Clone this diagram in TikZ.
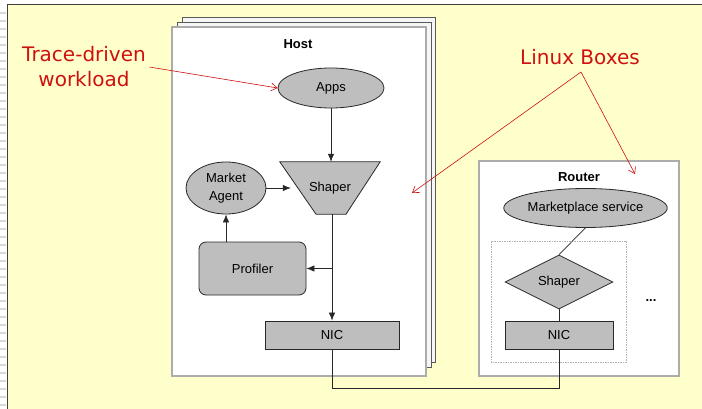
\documentclass[tikz,border=0pt]{standalone}
\usepackage{fontspec}
\setmainfont{Liberation Sans}
\newfontfamily\annfont{DejaVu Sans}
\usetikzlibrary{shapes.geometric,arrows.meta,calc}
\pgfdeclarelayer{back}
\pgfsetlayers{back,main}
\definecolor{bgyellow}{RGB}{255,255,204}
\definecolor{boxgray}{RGB}{190,190,190}
\definecolor{annred}{RGB}{208,16,16}
\definecolor{edge}{RGB}{40,40,40}
\begin{document}
\begin{tikzpicture}[x=1pt,y=-1pt,
  lbl/.style={font=\fontsize{13}{18}\selectfont},
  elem/.style={draw=edge, fill=boxgray, line width=0.8pt, lbl, inner sep=0pt},
  oval/.style={elem, ellipse},
  arr/.style={-{Latex[length=8pt,width=6.5pt]}, line width=0.7pt, edge},
  conn/.style={line width=0.7pt, edge},
  sheet/.style={fill=gray!7, draw=gray!70!black, line width=0.8pt},
  redarr/.style={annred, line width=0.6pt, -{Straight Barb[length=6pt,width=8pt]}},
  ann/.style={annred, font=\annfont\fontsize{20}{25}\selectfont, align=center}
]
\useasboundingbox (0,0) rectangle (702,409);
\begin{pgfonlayer}{back}
  % page background
  \fill[white] (0,0) rectangle (702,409);
  \foreach \yy in {13,21,...,405} \draw[gray!30, line width=1.2pt] (0,\yy) -- (6,\yy);
  \fill[bgyellow] (7,5) rectangle (702,409);
  \draw[black!75, line width=1pt] (7,409) -- (7,5) -- (702,5);
  % host stack
  \draw[sheet] (182,17) rectangle (435,362);
  \draw[sheet] (177,22) rectangle (431,367);
  \draw[fill=white, draw=gray!65, line width=1.6pt] (172,27) rectangle (426,376);
  % router box
  \draw[fill=white, draw=gray!65, line width=1.6pt] (479,161) rectangle (679,376);
  \draw[gray!60, line width=0.8pt, dash pattern=on 1.5pt off 1pt] (491,241) rectangle (626,362);
\end{pgfonlayer}

% host
\node[lbl, font=\fontsize{13}{18}\selectfont\bfseries] (hostlbl) at (298,44) {Host};
\node[oval, minimum width=106pt, minimum height=40pt] (apps) at (331,88) {Apps};
\node[lbl, minimum width=100pt, minimum height=52pt, inner sep=0pt] (shaper) at (330,188) {Shaper};
\begin{pgfonlayer}{back}
  \draw[fill=boxgray, draw=edge, line width=0.8pt]
    (shaper.north west) -- (shaper.north east)
    -- ($(shaper.south)+(16,0)$) -- ($(shaper.south)+(-14,0)$) -- cycle;
\end{pgfonlayer}
\node[oval, minimum width=80pt, minimum height=52pt, align=center] (agent) at (226,188) {Market\\Agent};
\node[elem, rounded corners=7pt, minimum width=107pt, minimum height=53pt] (profiler) at (252.5,268.5) {Profiler};
\node[elem, minimum width=134pt, minimum height=28pt] (hnic) at (332,335) {NIC};

\draw[arr] (apps.south) -- (apps.south |- shaper.north);
\draw[arr] (agent.east) -- ([xshift=11pt]shaper.west);
\draw[arr] ([xshift=2pt]shaper.south) -- ([xshift=2pt]shaper.south |- hnic.north);
\draw[arr] ([xshift=2pt]shaper.south |- profiler.east) -- (profiler.east);
\draw[arr] (agent.south |- profiler.north) -- (agent.south);

% router
\node[lbl, font=\fontsize{13}{18}\selectfont\bfseries] (routerlbl) at (579,177) {Router};
\node[oval, minimum width=161pt, minimum height=39pt] (msvc) at (585.5,208) {Marketplace service};
\node[elem, diamond, minimum width=108pt, minimum height=53pt] (rshaper) at (559,282) {Shaper};
\node[elem, minimum width=108pt, minimum height=28pt] (rnic) at (559,335) {NIC};
\node[lbl, font=\fontsize{13}{18}\selectfont\bfseries] (dots) at (651,301) {...};

\draw[conn] (msvc.south) -- (rshaper.north);
\draw[conn] (rshaper.south) -- (rnic.north);
\coordinate (bend) at (332,388);
\draw[conn] (hnic.south) -- (bend) -| (rnic.south);

% annotations
\node[ann] (trace) at (84,67) {Trace-driven\\workload};
\node[ann] (linux) at (580,57) {Linux Boxes};
\coordinate (lsrc) at (581,72);
\coordinate (hostpt) at (412,193);
\coordinate (routerpt) at (635,174);
\draw[redarr] (trace.east) -- (apps.west);
\draw[redarr] (lsrc) -- (hostpt);
\draw[redarr] (lsrc) -- (routerpt);
\end{tikzpicture}
\end{document}
